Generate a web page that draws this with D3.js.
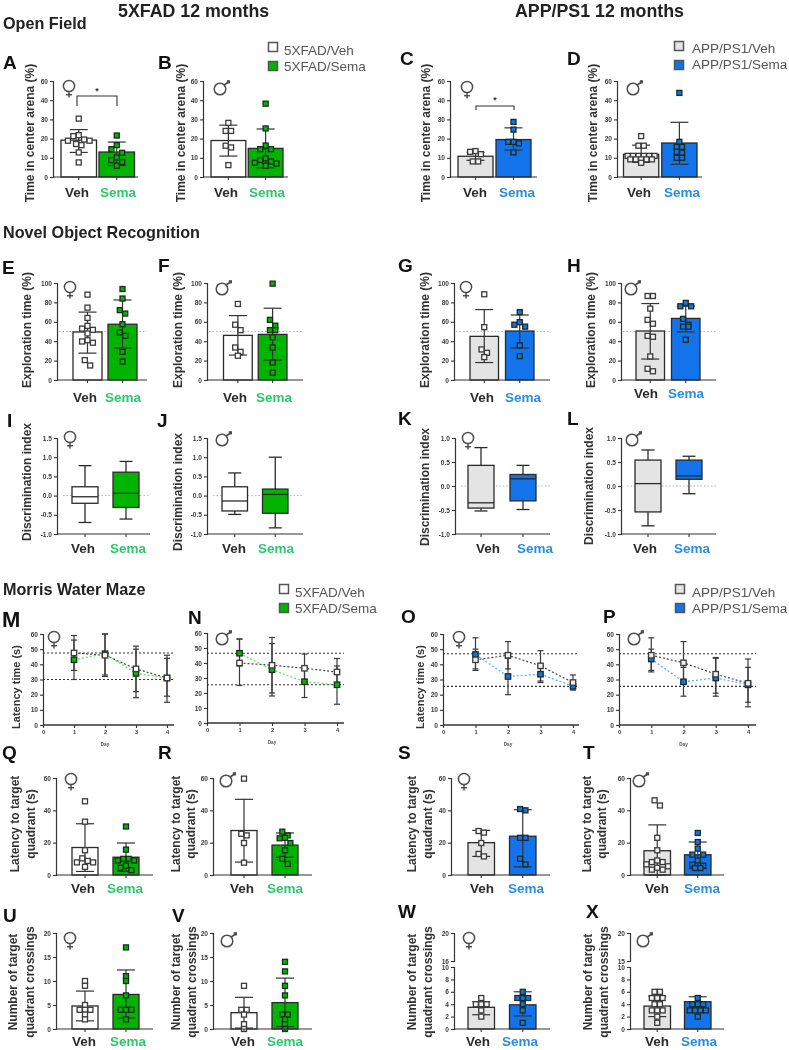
<!DOCTYPE html>
<html><head><meta charset="utf-8">
<script src="https://cdn.jsdelivr.net/npm/d3@7/dist/d3.min.js"></script>
<style>html,body{margin:0;padding:0;background:#fff}svg{display:block;filter:blur(0.5px)}text{font-family:"Liberation Sans",Arial,sans-serif}</style>
</head><body><div id="c"></div>
<script>
// ---------- DATA ----------
const groups = ["Veh","Sema"];
const ofTicks = [0,10,20,30,40,50];
const ofTickLabels = ["0","10","20","30","40","60"];
const norTicks = [0,20,40,60,80,100];
const diTicksWide = [-1,-0.5,0,0.5,1,1.5];
const diTicksNarrow = [-1,-0.5,0,0.5,1];
const days = [1,2,3,4];
const latTicks = [0,10,20,30,40,50,60];
const quadTicks = [0,20,40,60];
const crossTicks = [0,5,10,15,20];
const brokenLowTicks = [0,2,4,6,8,10];

// [mean, lower error, upper error]
const A_veh_bar=[19.2,12.8,24.7], A_sema_bar=[13,6,18.2];
const A_veh=[30.4,21.8,21.3,19.5,18.9,18.9,17.2,16.6,12.8,7.6];
const A_sema=[21.6,16.6,14.5,12.6,10.2,8.8,7.8,5.9];
const B_veh_bar=[19,10.9,27], B_sema_bar=[14.9,4.8,25];
const B_veh=[28.2,24,24,16.3,15.4,6.2];
const B_sema=[38.2,25.3,16.4,14.5,14.5,9.7,8.8,8.1,7.4,7,5.9];
const C_veh_bar=[10.8,8.7,12.9], C_sema_bar=[19.5,14,25.6];
const C_veh=[13.5,13.1,11.9,8.1,8.1];
const C_sema=[28.7,24.7,18.3,18.3,17.5,12.8];
const D_veh_bar=[11.8,7.6,16.6], D_sema_bar=[17.7,6.6,28.5];
const D_veh=[21.3,16.3,16.3,11,11,11,11,11,11,9.2,9.2,9.2,9.2,9.2,7.4];
const D_sema=[43.8,18.3,15.7,15.7,13.1,12.6,10,10];
const E_veh_bar=[49.5,27.7,70], E_sema_bar=[57.5,33,82.5];
const E_veh=[88,74.6,64,55.8,53,51.7,48,41,39.7,38.4,20.5,15];
const E_sema=[93.8,84,72,68.5,57.5,49,45.5,29,19];
const F_veh_bar=[46,25.7,66.4], F_sema_bar=[47,20.5,74];
const F_veh=[78.4,57,51.4,33.5,29,25];
const F_sema=[99.3,62,56,51.4,51.4,44,33.5,18,7.5];
const G_veh_bar=[45,18,72.6], G_sema_bar=[50.5,33,67];
const G_veh=[88.4,54.5,31.5,28,23.6];
const G_sema=[70,59.6,57,55,35.6,24.6];
const H_veh_bar=[50.5,21.6,78.8], H_sema_bar=[63.5,49.6,76];
const H_veh=[86.6,86.6,73.6,62,58,45.5,44.5,24.3,11.6,9];
const H_sema=[79.5,76,76,63,57,55,55,41.4];
// [low, q1, median, q3, high]
const I_veh_box=[-0.7,-0.2,-0.03,0.23,0.78], I_sema_box=[-0.61,-0.31,0.06,0.61,0.89];
const J_veh_box=[-0.49,-0.4,-0.14,0.23,0.59], J_sema_box=[-0.84,-0.46,0.03,0.17,1.0];
const K_veh_box=[-0.52,-0.46,-0.35,0.43,0.8], K_sema_box=[-0.49,-0.31,0.15,0.24,0.43];
const L_veh_box=[-0.83,-0.54,0.05,0.54,0.75], L_sema_box=[-0.16,0.14,0.21,0.54,0.62];
// latency curves
const M_veh_mean=[47.5,46,37,31], M_veh_low=[36,33,22,19], M_veh_high=[59,60,52,46];
const M_sema_mean=[43,47,34,31], M_sema_low=[30,32,18,15], M_sema_high=[56,60,50,44];
const M_refs=[47.5,30];
const N_veh_mean=[40,38.5,36.5,34], N_veh_low=[38,20,27,25], N_veh_high=[56,57,46,43];
const N_sema_mean=[46.5,35.5,27.5,25.5], N_sema_low=[25,18,17,12.5], N_sema_high=[56,53,37,38];
const N_refs=[46.5,25.5];
const O_veh_mean=[43,46,39,28], O_veh_low=[36,37,29,24], O_veh_high=[50,55,49,33];
const O_sema_mean=[46.5,32,33.5,25.5], O_sema_low=[37,20,28,23], O_sema_high=[57.5,44,39,29];
const O_refs=[47,25.5];
const P_veh_mean=[46,41,33.5,27.5], P_veh_low=[35,28,21,15], P_veh_high=[57.5,55,44.5,43.5];
const P_sema_mean=[43.5,28.5,31,26.5], P_sema_low=[36,19,19,12], P_sema_high=[50,38,44,38];
const P_refs=[47,25.5];
const Q_veh_bar=[17,2.2,31.7], Q_sema_bar=[11,2.2,19.8];
const Q_veh=[45.6,33,15.3,10.3,8.7,7.8,7.8,5];
const Q_sema=[30,15.7,10,10,9,9,5.8,4.5,3];
const R_veh_bar=[27.5,8,46.8], R_sema_bar=[18.5,11,26];
const R_veh=[59.6,25.5,24.5,19.8,7.6];
const R_sema=[26.8,24.5,23,22.7,19.8,15.3,10,6.8];
const S_veh_bar=[20,11.5,27.6], S_sema_bar=[24,5,40.4];
const S_veh=[27.2,26.2,19.8,13,11.5];
const S_sema=[40.8,40,23,23,10,6.6];
const T_veh_bar=[15,0,31], T_sema_bar=[12.5,4,20.4];
const T_veh=[46.2,43,23,15.3,9,8,8,6.6,5.4,4.5,3.3,3.3];
const T_sema=[26,20.4,16.3,12.6,12.6,9,6.4,5.8,4.3,4.3];
const U_veh_bar=[4.8,1.7,7.9], U_sema_bar=[7.2,2.3,12.3];
const U_veh=[10,9,5,4,4,4,3,2];
const U_sema=[17,11,10,7,4,4,4,2];
const V_veh_bar=[3.4,0.2,6.6], V_sema_bar=[5.5,0.5,10.6];
const V_veh=[9,4,4,3,1,0];
const V_sema=[14,12,9,7,3,3,2,1,0];
const W_veh_bar=[3.5,2.3,4.4], W_sema_bar=[3.9,2.1,6];
const W_veh=[5,4,4,4,3,2];
const W_sema=[6,5,5,5,4,3,1];
const X_veh_bar=[3.7,2,5.3], X_sema_bar=[4.4,3.4,5.2];
const X_veh=[6,6,5,5,5,4,4,3,3,3,2,1];
const X_sema=[5,4,4,4,3,3,3,3,2];

// ---------- LAYOUT & STYLE ----------
const W=789,H=1050;
const svg=d3.select("#c").append("svg").attr("width",W).attr("height",H).attr("viewBox",[0,0,W,H]);
const INK="#333", GREEN="#00b400", BLUE="#1273ea", GREY="#e4e4e4";
const LBL_G="#2dc76d", LBL_B="#2b8ddb";
const themes={
  x:{vehFill:"#fff",semaFill:GREEN,vehPt:"#fff",lab:LBL_G,line:"#5fe05f"},
  a:{vehFill:GREY,semaFill:BLUE,vehPt:"#f4f4f4",lab:LBL_B,line:"#62aef5"}
};
function txt(s,x,y,size,opt={}){
  return svg.append("text").attr("x",x).attr("y",y).attr("font-size",size)
   .attr("font-weight",opt.w||"normal").attr("fill",opt.c||"#222").attr("text-anchor",opt.a||"start").text(s);
}
function ytitle(lines,xs,mid,size){
  lines.forEach((l,i)=>svg.append("text").attr("transform",`translate(${xs[i]},${mid}) rotate(-90)`)
    .attr("text-anchor","middle").attr("dominant-baseline","middle").attr("font-size",size)
    .attr("font-weight","bold").attr("fill","#333").text(l));
}
function sex(kind,x,y){
  const g=svg.append("g").attr("fill","none").attr("stroke","#4d4d4d").attr("stroke-width",1.5);
  if(kind==="f"){
    g.append("circle").attr("cx",x).attr("cy",y).attr("r",5.6);
    g.append("line").attr("x1",x).attr("x2",x).attr("y1",y+5.6).attr("y2",y+11.5);
    g.append("line").attr("x1",x-3).attr("x2",x+3).attr("y1",y+8.7).attr("y2",y+8.7);
  } else {
    g.append("circle").attr("cx",x).attr("cy",y).attr("r",5.8);
    g.append("line").attr("x1",x+4).attr("x2",x+8).attr("y1",y-4).attr("y2",y-6.5);
    svg.append("rect").attr("x",x+6.8).attr("y",y-8.8).attr("width",3.2).attr("height",3.2).attr("fill","#4d4d4d");
  }
}
const tickFmt1=v=>d3.format(".1f")(v).replace("\u2212","-");
function leftAxis(scale,x,values,labels){
  const ax=d3.axisLeft(scale).tickValues(values).tickSize(3).tickPadding(2);
  if(typeof labels==="function") ax.tickFormat(labels);
  else if(labels) ax.tickFormat((d,i)=>labels[i]); else ax.tickFormat(d=>d3.format("~g")(d));
  const g=svg.append("g").attr("transform",`translate(${x},0)`).call(ax);
  g.selectAll("path").attr("stroke",INK).attr("stroke-width",1.2);
  g.selectAll("line").attr("stroke",INK).attr("stroke-width",1.1);
  g.selectAll("text").attr("font-size",6.6).attr("font-weight","bold").attr("fill","#3c3c3c")
    .style("font-family",'"Liberation Sans",Arial,sans-serif');
  return g;
}
function bottomBand(x,y0,axisX,endX){
  const ax=d3.axisBottom(x).tickSize(3).tickFormat("");
  const g=svg.append("g").attr("transform",`translate(0,${y0})`).call(ax);
  g.select(".domain").remove();
  g.selectAll("line").attr("stroke",INK).attr("stroke-width",1.1);
  svg.append("line").attr("x1",axisX).attr("x2",endX).attr("y1",y0).attr("y2",y0).attr("stroke",INK).attr("stroke-width",1.2);
}
function band(l,r,gap){
  const step=(r-l+gap)/2;
  return d3.scaleBand().domain(groups).range([l,r]).paddingInner(gap/step).paddingOuter(0);
}
function catLabels(t,vx,sx,y){
  txt("Veh",vx,y,13.5,{w:"bold",a:"middle",c:"#2b2b2b"});
  txt("Sema",sx,y,13.5,{w:"bold",a:"middle",c:t.lab});
}
// Prism-like swarm: values sharing a row are spread symmetrically round the centre
function swarm(values,y,rowH=6,step=5.4){
  const sorted=[...values].sort((a,b)=>b-a), out=[];
  let i=0;
  while(i<sorted.length){
    let j=i; const y0=y(sorted[i]);
    while(j<sorted.length && y(sorted[j])-y0<rowH) j++;
    const n=j-i;
    for(let k=0;k<n;k++){
      let off;
      if(n%2){off=k===0?0:Math.ceil(k/2)*(k%2?-1:1);}
      else {off=(Math.floor(k/2)+0.5)*(k%2?1:-1);}
      out.push({v:sorted[i+k],dx:off*step});
    }
    i=j;
  }
  return out;
}
function errBar(g,cx,yl,yh,cap){
  g.append("line").attr("x1",cx).attr("x2",cx).attr("y1",yl).attr("y2",yh);
  g.append("line").attr("x1",cx-cap).attr("x2",cx+cap).attr("y1",yl).attr("y2",yl);
  g.append("line").attr("x1",cx-cap).attr("x2",cx+cap).attr("y1",yh).attr("y2",yh);
}
function barMarks(x,y,t,vb,sb,vp,sp,y0,row){
  [[ "Veh",vb,vp,t.vehFill,t.vehPt,"#3a3a3a"],["Sema",sb,sp,t.semaFill,t.semaFill,"#1c2b22"]].forEach(([k,b,p,fill,pf,st])=>{
    const cx=x(k)+x.bandwidth()/2;
    svg.append("rect").attr("x",x(k)).attr("width",x.bandwidth()).attr("y",y(b[0])).attr("height",y0-y(b[0]))
      .attr("fill",fill).attr("stroke","#2a2a2a").attr("stroke-width",1.3);
    const g=svg.append("g").attr("stroke",INK).attr("stroke-width",1.2);
    errBar(g,cx,y(b[1]),y(b[2]),9);
    svg.append("g").selectAll("rect").data(swarm(p,y,row)).join("rect")
      .attr("x",d=>cx+d.dx-2.5).attr("y",d=>y(d.v)-2.5).attr("width",5).attr("height",5)
      .attr("fill",pf).attr("stroke",st).attr("stroke-width",1.3);
  });
}
function barPanel(c){
  const y=d3.scaleLinear().domain(c.dom).range([c.bottom,c.top]);
  const x=band(c.b[0],c.b[1],c.b[2]);
  leftAxis(y,c.ax,c.ticks,c.labels);
  if(c.ref!==undefined) svg.append("line").attr("x1",c.ax+2).attr("x2",c.end).attr("y1",y(c.ref)).attr("y2",y(c.ref))
      .attr("stroke","#b5b5b5").attr("stroke-width",1).attr("stroke-dasharray","1.5,2");
  barMarks(x,y,c.t,c.vb,c.sb,c.vp,c.sp,c.bottom,c.row);
  bottomBand(x,c.bottom,c.ax,c.end);
  catLabels(c.t,c.lab[0],c.lab[1],c.lab[2]);
  return {x,y};
}
function boxPanel(c){
  const y=d3.scaleLinear().domain(c.dom).range([c.bottom,c.top]);
  const x=band(c.b[0],c.b[1],c.b[2]);
  leftAxis(y,c.ax,c.ticks,tickFmt1);
  svg.append("line").attr("x1",c.ax+6).attr("x2",c.end).attr("y1",y(0)).attr("y2",y(0))
      .attr("stroke","#b5b5b5").attr("stroke-width",1).attr("stroke-dasharray","1.5,2");
  [["Veh",c.vb,c.t.vehFill],["Sema",c.sb,c.t.semaFill]].forEach(([k,b,f])=>{
    const cx=x(k)+x.bandwidth()/2;
    const g=svg.append("g").attr("stroke","#2a2a2a").attr("stroke-width",1.3);
    g.append("line").attr("x1",cx).attr("x2",cx).attr("y1",y(b[0])).attr("y2",y(b[4]));
    [b[0],b[4]].forEach(v=>g.append("line").attr("x1",cx-6.5).attr("x2",cx+6.5).attr("y1",y(v)).attr("y2",y(v)));
    g.append("rect").attr("x",x(k)).attr("width",x.bandwidth()).attr("y",y(b[3])).attr("height",y(b[1])-y(b[3])).attr("fill",f);
    g.append("line").attr("x1",x(k)).attr("x2",x(k)+x.bandwidth()).attr("y1",y(b[2])).attr("y2",y(b[2]));
  });
  bottomBand(x,c.bottom,c.ax,c.end);
  catLabels(c.t,c.lab[0],c.lab[1],c.lab[2]);
}
function linePanel(c){
  const y=d3.scaleLinear().domain([0,60]).range([c.bottom,c.top]);
  const x=d3.scaleLinear().domain([0,4]).range([c.ax,c.x4]);
  leftAxis(y,c.ax,latTicks);
  const ax=d3.axisBottom(x).tickValues([0,...days]).tickSize(3).tickPadding(2).tickFormat(d3.format("d"));
  const g=svg.append("g").attr("transform",`translate(0,${c.bottom})`).call(ax);
  g.select(".domain").remove();
  g.selectAll("line").attr("stroke",INK).attr("stroke-width",1.1);
  g.selectAll("text").attr("font-size",5.8).attr("font-weight","bold").attr("fill","#3c3c3c").style("font-family",'"Liberation Sans",Arial,sans-serif');
  svg.append("line").attr("x1",c.ax).attr("x2",c.end).attr("y1",c.bottom).attr("y2",c.bottom).attr("stroke",INK).attr("stroke-width",1.3);
  txt("Day",(c.ax+c.x4)/2,c.bottom+21,4.6,{a:"middle",w:"bold",c:"#555"});
  c.refs.forEach(r=>svg.append("line").attr("x1",c.ax).attr("x2",c.end).attr("y1",y(r)).attr("y2",y(r))
    .attr("stroke","#333").attr("stroke-width",1.1).attr("stroke-dasharray","2,2"));
  const ln=d3.line().x((d,i)=>x(days[i])).y(d=>y(d));
  const eg=svg.append("g").attr("stroke","#3a3a3a").attr("stroke-width",1.2);
  days.forEach((d,i)=>{ errBar(eg,x(d),y(c.v[1][i]),y(c.v[2][i]),3); errBar(eg,x(d),y(c.s[1][i]),y(c.s[2][i]),3); });
  svg.append("path").attr("d",ln(c.v[0])).attr("fill","none").attr("stroke","#444").attr("stroke-width",1.2).attr("stroke-dasharray","2,2");
  svg.append("path").attr("d",ln(c.s[0])).attr("fill","none").attr("stroke",c.t.line).attr("stroke-width",1.3).attr("stroke-dasharray","2,2");
  [[c.s[0],c.t.semaFill,"#1c2b22"],[c.v[0],c.t===themes.x?"#fff":"#eee","#3a3a3a"]].forEach(([m,f,s])=>{
    svg.append("g").selectAll("rect").data(m).join("rect")
      .attr("x",(d,i)=>x(days[i])-2.7).attr("y",d=>y(d)-2.7).attr("width",5.4).attr("height",5.4)
      .attr("fill",f).attr("stroke",s).attr("stroke-width",1.3);
  });
}
function brokenPanel(c){
  const y=d3.scaleLinear().domain([0,10]).range([c.bottom,c.lowTop]);
  const yU=d3.scaleLinear().domain([c.upLow,20]).range([c.upBottom,c.top]);
  const x=band(c.b[0],c.b[1],c.b[2]);
  leftAxis(y,c.ax,brokenLowTicks);
  leftAxis(yU,c.ax,[c.upLow,20]);
  barMarks(x,y,c.t,c.vb,c.sb,c.vp,c.sp,c.bottom,c.row);
  bottomBand(x,c.bottom,c.ax,c.end);
  catLabels(c.t,c.lab[0],c.lab[1],c.lab[2]);
}
function legend(rows){
  rows.forEach(r=>{
    svg.append("rect").attr("x",r[0]-4.5).attr("y",r[1]-4.5).attr("width",9).attr("height",9)
      .attr("fill",r[4]).attr("stroke","#555").attr("stroke-width",1.5);
    txt(r[5],r[2],r[3],13.5,{c:"#555"});
  });
}
function bracket(x1,x2,top,bot,sx,sy){
  svg.append("path").attr("d",d3.line()([[x1,bot],[x1,top],[x2,top],[x2,bot]])).attr("fill","none").attr("stroke",INK).attr("stroke-width",1.1);
  txt("*",sx,sy,9,{w:"bold",a:"middle",c:"#333"});
}

// ---------- HEADINGS ----------
txt("5XFAD 12 months",118,16.5,17.8,{w:"bold"});
txt("APP/PS1 12 months",515,16.5,17.8,{w:"bold"});
txt("Open Field",3,29,16.2,{w:"bold"});
txt("Novel Object Recognition",3,238,16.2,{w:"bold"});
txt("Morris Water Maze",3,595,16.2,{w:"bold"});
[["A",3,69,19],["B",158,69,19],["C",400,65,19],["D",567,65,19],["E",2,274,19],["F",158,272,19],["G",398,272,19],["H",567,272,19],
 ["I",7,427,19],["J",157,427,19],["K",398,425,19],["L",567,425,19],["M",2,627,22],["N",188,624,19],["O",401,623,19],["P",603,623,19],
 ["Q",2,759,19],["R",158,759,19],["S",398,759,19],["T",583,759,19],["U",3,922,19],["V",172,922,19],["W",398,918,19],["X",586,918,19]]
 .forEach(d=>txt(d[0],d[1],d[2],d[3],{w:"bold",c:"#111"}));
legend([[273,47,284,55,"#fff","5XFAD/Veh"],[273,66,284,71,GREEN,"5XFAD/Sema"],
        [679,46,692,53,GREY,"APP/PS1/Veh"],[679,65,692,69,BLUE,"APP/PS1/Sema"],
        [284,589,295,597,"#fff","5XFAD/Veh"],[284,608,295,613,GREEN,"5XFAD/Sema"],
        [680,589,692,597,GREY,"APP/PS1/Veh"],[680,608,692,613,BLUE,"APP/PS1/Sema"]]);

const X=themes.x,Z=themes.a;
// ---------- OPEN FIELD ----------
const of={dom:[0,50],top:81,bottom:177,ticks:ofTicks,labels:ofTickLabels};
barPanel({...of,ax:53,end:138,b:[61,134.5,2.5],t:X,vb:A_veh_bar,sb:A_sema_bar,vp:A_veh,sp:A_sema,lab:[77,118,197],row:8});
barPanel({...of,ax:203,end:288,b:[211,283,2.5],t:X,vb:B_veh_bar,sb:B_sema_bar,vp:B_veh,sp:B_sema,lab:[226,267,197],row:6});
barPanel({...of,ax:450,end:537,b:[458,531,3],t:Z,vb:C_veh_bar,sb:C_sema_bar,vp:C_veh,sp:C_sema,lab:[475,517,197],row:6});
barPanel({...of,ax:617,end:702,b:[623.5,697,3],t:Z,vb:D_veh_bar,sb:D_sema_bar,vp:D_veh,sp:D_sema,lab:[639,682,197],row:3.4});
bracket(77,117,96,106,97,94);
bracket(476,514,106,110,495,103);
[[31,133],[182,133],[427,133],[594,133]].forEach(p=>ytitle(["Time in center arena (%)"],[p[0]],p[1],12));
sex("f",69,86);sex("m",220,89);sex("f",467,87);sex("m",633,89);

// ---------- NOVEL OBJECT ----------
const nor={dom:[0,100],top:283,bottom:380,ticks:norTicks,ref:50};
barPanel({...nor,ax:57,end:147,b:[73,137,6],t:X,vb:E_veh_bar,sb:E_sema_bar,vp:E_veh,sp:E_sema,lab:[85,123,402]});
barPanel({...nor,ax:207,end:303,b:[223.5,287,6],t:X,vb:F_veh_bar,sb:F_sema_bar,vp:F_veh,sp:F_sema,lab:[235,274,402]});
barPanel({...nor,ax:454,end:550,b:[470,534,7],t:Z,vb:G_veh_bar,sb:G_sema_bar,vp:G_veh,sp:G_sema,lab:[482,523,402]});
barPanel({...nor,ax:621,end:716,b:[636,700,7],t:Z,vb:H_veh_bar,sb:H_sema_bar,vp:H_veh,sp:H_sema,lab:[646,686,398]});
[[28,330],[179,330],[426,330],[592,330]].forEach(p=>ytitle(["Exploration time (%)"],[p[0]],p[1],12));
sex("f",70,287);sex("m",222,289);sex("f",466,287);sex("m",631,289);

const di={top:438,bottom:534};
boxPanel({...di,dom:[-1,1.5],ticks:diTicksWide,ax:57,end:150,b:[72,139,15],t:X,vb:I_veh_box,sb:I_sema_box,lab:[83,128,553]});
boxPanel({...di,dom:[-1,1.5],ticks:diTicksWide,ax:207,end:303,b:[222,288,15],t:X,vb:J_veh_box,sb:J_sema_box,lab:[234,276,553]});
boxPanel({...di,dom:[-1,1],ticks:diTicksNarrow,ax:455,end:550,b:[468,536,16],t:Z,vb:K_veh_box,sb:K_sema_box,lab:[488,535,553]});
boxPanel({...di,dom:[-1,1],ticks:diTicksNarrow,ax:621,end:716,b:[635,702,15],t:Z,vb:L_veh_box,sb:L_sema_box,lab:[645,692,553]});
[[28,482],[179,492],[426,487],[590,486]].forEach(p=>ytitle(["Discrimination index"],[p[0]],p[1],12));
sex("f",70,437);sex("m",222,440);sex("f",468,438);sex("m",632,440);

// ---------- WATER MAZE ----------
linePanel({ax:43,x4:167,end:174,top:634,bottom:725,t:X,v:[M_veh_mean,M_veh_low,M_veh_high],s:[M_sema_mean,M_sema_low,M_sema_high],refs:M_refs});
linePanel({ax:207,x4:337,end:344,top:633,bottom:723,t:X,v:[N_veh_mean,N_veh_low,N_veh_high],s:[N_sema_mean,N_sema_low,N_sema_high],refs:N_refs});
linePanel({ax:443,x4:573,end:579,top:634,bottom:725,t:Z,v:[O_veh_mean,O_veh_low,O_veh_high],s:[O_sema_mean,O_sema_low,O_sema_high],refs:O_refs});
linePanel({ax:619,x4:748,end:756,top:634,bottom:725,t:Z,v:[P_veh_mean,P_veh_low,P_veh_high],s:[P_sema_mean,P_sema_low,P_sema_high],refs:P_refs});
ytitle(["Latency time (s)"],[17],687,11);
ytitle(["Latency time (s)"],[421],687,11);
sex("f",54,637);sex("m",222,639);sex("f",459,637);sex("m",634,639);

const qd={dom:[0,60],top:778,bottom:875,ticks:quadTicks};
barPanel({...qd,ax:56,end:153,b:[72,139,15],t:X,vb:Q_veh_bar,sb:Q_sema_bar,vp:Q_veh,sp:Q_sema,lab:[83,125,893]});
barPanel({...qd,ax:213,end:312,b:[231,298,15],t:X,vb:R_veh_bar,sb:R_sema_bar,vp:R_veh,sp:R_sema,lab:[242,285,893]});
barPanel({...qd,ax:451,end:550,b:[468,536,15],t:Z,vb:S_veh_bar,sb:S_sema_bar,vp:S_veh,sp:S_sema,lab:[482,526,893]});
barPanel({...qd,ax:630,end:724,b:[644,711,14],t:Z,vb:T_veh_bar,sb:T_sema_bar,vp:T_veh,sp:T_sema,lab:[657,702,893]});
[[16,32],[177,192],[413,429],[588,603]].forEach(p=>ytitle(["Latency to target","quadrant (s)"],p,824,12));
sex("f",71,779);sex("m",226,781);sex("f",464,779);sex("m",639,781);

const cr={dom:[0,20],top:933,bottom:1029,ticks:crossTicks,row:4.5};
barPanel({...cr,ax:56,end:153,b:[72,139,15],t:X,vb:U_veh_bar,sb:U_sema_bar,vp:U_veh,sp:U_sema,lab:[84,128,1046]});
barPanel({...cr,ax:213,end:312,b:[231,298,15],t:X,vb:V_veh_bar,sb:V_sema_bar,vp:V_veh,sp:V_sema,lab:[243,285,1046]});
const br={top:933,upBottom:961,lowTop:967,bottom:1029,row:6};
brokenPanel({...br,upLow:16,ax:454,end:550,b:[468,536,15],t:Z,vb:W_veh_bar,sb:W_sema_bar,vp:W_veh,sp:W_sema,lab:[478,520,1046]});
brokenPanel({...br,upLow:15,ax:630,end:724,b:[644,711,14],t:Z,vb:X_veh_bar,sb:X_sema_bar,vp:X_veh,sp:X_sema,lab:[657,699,1046]});
[[14,31],[177,193],[413,429],[589,605]].forEach(p=>ytitle(["Number of target","quadrant crossings"],p,982,12));
sex("f",70,938);sex("m",227,941);sex("f",469,938);sex("m",643,941);
</script></body></html>
